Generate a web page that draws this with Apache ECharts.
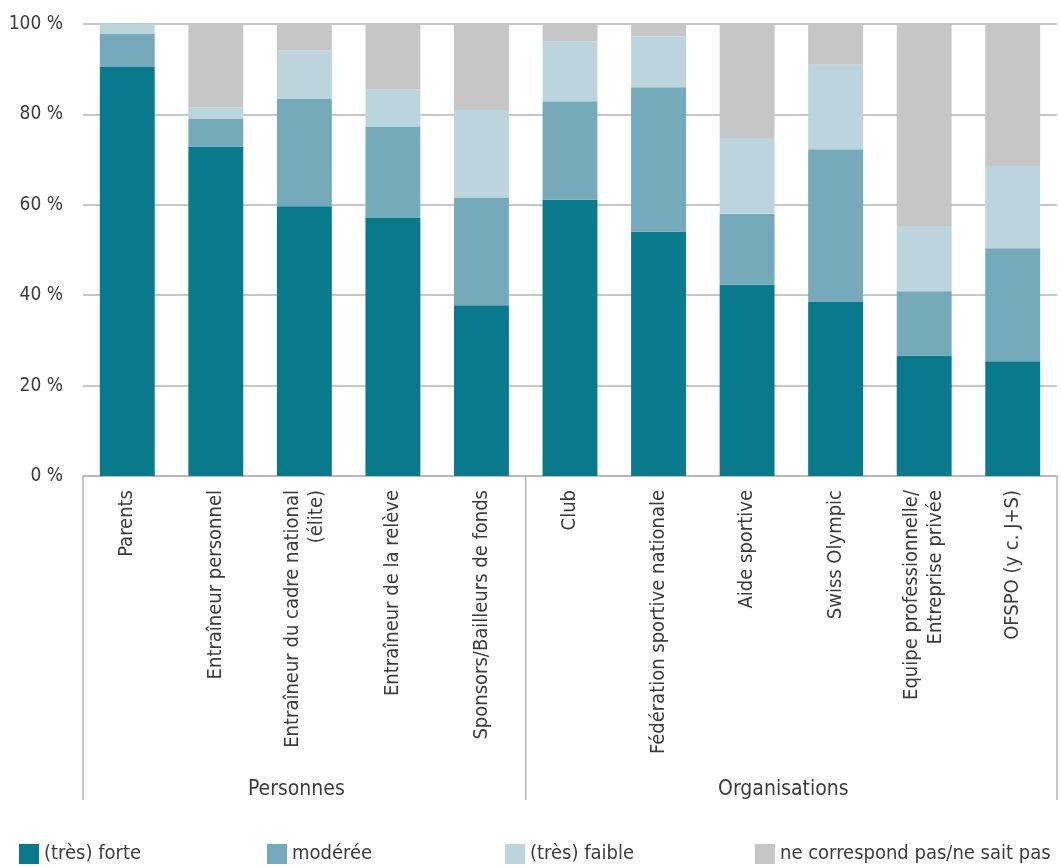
<!DOCTYPE html>
<html>
<head>
<meta charset="utf-8">
<script src="https://cdn.jsdelivr.net/npm/echarts@6/dist/echarts.min.js"></script>
<style>
html,body{margin:0;padding:0;background:#fff;}
#chart{width:1061px;height:866px;}
</style>
</head>
<body>
<div id="chart"></div>
<script>
var categories = ['Parents','Entraîneur personnel','Entraîneur du cadre national\n(élite)','Entraîneur de la relève','Sponsors/Bailleurs de fonds','Club','Fédération sportive nationale','Aide sportive','Swiss Olympic','Equipe professionnelle/\nEntreprise privée','OFSPO (y c. J+S)'];
var seriesNames = ['(très) forte','modérée','(très) faible','ne correspond pas/ne sait pas'];
var forte   = [90.5, 72.9, 59.7, 57.2, 37.8, 61.1, 54.1, 42.3, 38.5, 26.6, 25.4];
var moderee = [7.4, 6.2, 23.8, 20.1, 23.8, 21.8, 31.9, 15.7, 33.8, 14.3, 25.0];
var faible  = [2.1, 2.5, 10.7, 8.2, 19.4, 13.3, 11.3, 16.8, 18.7, 14.4, 18.2];
var nsp     = [0, 18.4, 5.8, 14.5, 19.0, 3.8, 2.7, 25.2, 9.0, 44.7, 31.4];
var groupNames = ['Personnes','Organisations'];
var groupSizes = [5, 6];
var yTicks = [0, 20, 40, 60, 80, 100];

var FONT = '"Liberation Sans Narrow", "DejaVu Sans Condensed", "Liberation Sans", sans-serif';
var TXT = '#3c3c3c';
var colors = ['#087a8b','#74aab9','#bcd5dc','#c6c6c6'];
var values = [forte, moderee, faible, nsp];

var chart = echarts.init(document.getElementById('chart'));
var legendLefts = [14, 262, 500, 750];

var option = {
  animation: false,
  textStyle: {fontFamily: FONT, color: TXT},
  grid: {left: 83, right: 4, top: 24, bottom: 390, containLabel: false},
  legend: seriesNames.map(function(n, i){
    return {
      data: [n], left: legendLefts[i], top: 839, itemWidth: 20, itemHeight: 20, itemGap: 10,
      icon: 'rect', selectedMode: false,
      textStyle: {fontFamily: FONT, fontSize: 20, color: TXT, padding: [0,0,0,0]}
    };
  }),
  xAxis: {
    type: 'category', data: categories,
    axisLine: {lineStyle: {color: '#b5b5b5', width: 1.5}},
    axisTick: {show: false},
    axisLabel: {rotate: 90, interval: 0, margin: 14, fontFamily: FONT, fontSize: 20, color: TXT, lineHeight: 24}
  },
  yAxis: {
    type: 'value', min: yTicks[0], max: yTicks[yTicks.length-1], interval: 20,
    axisLine: {show: false}, axisTick: {show: false},
    splitLine: {lineStyle: {color: '#b5b5b5', width: 1.5}},
    axisLabel: {formatter: '{value} %', fontFamily: FONT, fontSize: 19, color: TXT, margin: 20}
  },
  series: seriesNames.map(function(n, i){
    return {
      name: n, type: 'bar', stack: 'total', data: values[i],
      barCategoryGap: '38%',
      itemStyle: {color: colors[i]}
    };
  })
};
chart.setOption(option);

function drawGroups(){
  var c0 = chart.convertToPixel({xAxisIndex: 0}, 0);
  var c1 = chart.convertToPixel({xAxisIndex: 0}, 1);
  var band = c1 - c0;
  var yAxisPx = chart.convertToPixel({yAxisIndex: 0}, 0);
  var bottom = 800;
  var elems = [];
  var idx = 0;
  var bounds = [c0 - band/2];
  groupSizes.forEach(function(s){ idx += s; bounds.push(c0 - band/2 + idx*band); });
  bounds.forEach(function(x){
    elems.push({type: 'line', shape: {x1: x, y1: yAxisPx, x2: x, y2: bottom},
      style: {stroke: '#b5b5b5', lineWidth: 1.5}, silent: true});
  });
  groupNames.forEach(function(g, i){
    elems.push({type: 'text', x: (bounds[i] + bounds[i+1]) / 2 - 8, y: 790,
      style: {text: g, fontFamily: FONT, fontSize: 21, fill: TXT, align: 'center', verticalAlign: 'middle'}, silent: true});
  });
  chart.setOption({graphic: elems});
}
drawGroups();
</script>
</body>
</html>
